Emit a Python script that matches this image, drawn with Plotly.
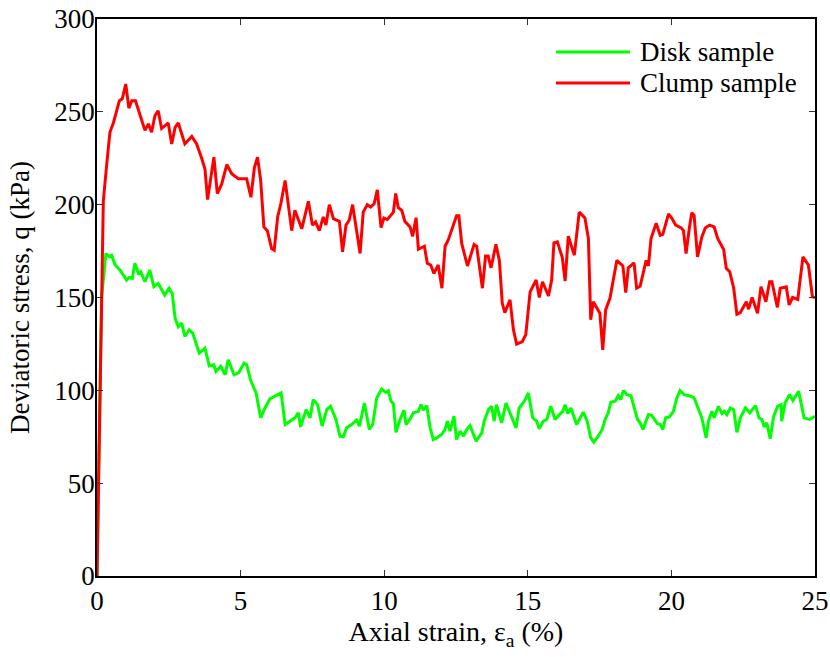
import plotly.graph_objects as go

# ---- data ----
disk_strain = [0, 0.10, 0.16, 0.31, 0.43, 0.51, 0.63, 0.80, 1.03, 1.12, 1.23, 1.32, 1.44, 1.52, 1.67, 1.84,
               1.98, 2.13, 2.36, 2.51, 2.62, 2.72, 2.83, 2.95, 3.06, 3.21, 3.33, 3.56, 3.76, 3.91, 4.07, 4.14,
               4.31, 4.46, 4.57, 4.77, 4.94, 5.12, 5.21, 5.35, 5.54, 5.70, 5.85, 6.02, 6.23, 6.41, 6.55, 6.72,
               6.89, 7.01, 7.09, 7.28, 7.42, 7.53, 7.68, 7.84, 8.00, 8.13, 8.32, 8.46, 8.58, 8.69, 8.87, 9.04,
               9.14, 9.31, 9.48, 9.60, 9.74, 9.91, 10.06, 10.14, 10.24, 10.32, 10.41, 10.55, 10.69, 10.76,
               10.90, 11.02, 11.19, 11.28, 11.36, 11.48, 11.60, 11.71, 11.83, 12.00, 12.12, 12.20, 12.29,
               12.43, 12.52, 12.64, 12.76, 12.87, 12.99, 13.20, 13.40, 13.48, 13.63, 13.74, 13.83, 13.91,
               14.09, 14.24, 14.44, 14.59, 14.70, 14.88, 15.02, 15.17, 15.31, 15.40, 15.54, 15.66, 15.80,
               15.95, 16.10, 16.22, 16.30, 16.39, 16.50, 16.70, 16.93, 17.07, 17.19, 17.30, 17.45, 17.59,
               17.69, 17.80, 17.89, 18.04, 18.15, 18.24, 18.33, 18.45, 18.59, 18.74, 18.82, 18.91, 19.01,
               19.20, 19.32, 19.51, 19.61, 19.70, 19.80, 19.93, 20.07, 20.19, 20.30, 20.44, 20.63, 20.79,
               20.94, 21.06, 21.21, 21.29, 21.41, 21.49, 21.64, 21.76, 21.84, 21.93, 22.05, 22.17, 22.28,
               22.40, 22.58, 22.73, 22.93, 23.05, 23.15, 23.23, 23.32, 23.44, 23.56, 23.70, 23.82, 23.84,
               23.96, 24.11, 24.23, 24.43, 24.62, 24.81, 25.0]
disk_q = [0, 100, 150, 173.7, 172, 172.8, 167.5, 164.8, 159.4, 160.8, 160.3, 168.4, 163, 163.9, 158.5, 164.8,
          155.8, 157.6, 151.3, 154.9, 152.2, 138.8, 134.3, 136.2, 129, 132.6, 130.8, 120, 122.7, 113.2, 113.8, 110.2,
          112.9, 108.4, 116.5, 108.4, 109.6, 114.7, 113.8, 105.4, 98.6, 85.2, 90.5, 95.4, 97.1, 98.6, 81.6, 83.4,
          85.2, 87.9, 80.3, 89.6, 85.2, 95, 92.3, 80.7, 89.6, 91.4, 84.3, 75.3, 75, 79.8, 81.6, 83.9,
          80.7, 93.2, 78.9, 81.6, 95.9, 100.7, 98.9, 99.8, 94.1, 92.8, 77.4, 84.3, 89.3, 81.6,
          84.6, 87.9, 88.7, 92.3, 89.3, 91.8, 79.8, 73.5, 74.4, 76.2, 78.9, 83.4, 78,
          86.1, 73.5, 78, 75.3, 78.9, 81, 72.6, 77.1, 83.4, 89.6, 91.4, 83.4, 92.3,
          82.5, 93.2, 86, 79.8, 90.5, 94.1, 98.6, 85.2, 83.4, 79.3, 83.4, 84.3, 91.4,
          84.3, 86.9, 88.7, 92.3, 87.5, 90.5, 81.6, 88.2, 83.4, 74.4, 72.1, 75.3, 78.9,
          84.3, 87.9, 93.6, 94.1, 97.1, 95, 100, 97.7, 97.1, 88.7, 84.3, 82.5, 78.9,
          86.9, 86.4, 82.1, 81.6, 78.9, 85.2, 85.7, 88.7, 95.9, 99.8, 97.7, 97.1, 95.9,
          89.6, 85.2, 74.4, 83.4, 88.7, 85.2, 91.4, 87.5, 88.7, 86.9, 90.5, 89.6, 77.4,
          85.2, 90.5, 87.9, 91.8, 85.2, 84.3, 80.3, 82.5, 73.9, 86, 91.4, 92.3, 83.4,
          93.2, 97.7, 94.5, 99.5, 85.2, 84.3, 86]

clump_strain = [0, 0.12, 0.22, 0.34, 0.45, 0.57, 0.78, 0.88, 1.0, 1.11, 1.21, 1.34, 1.50, 1.67, 1.79, 1.90,
                2.02, 2.13, 2.25, 2.48, 2.60, 2.72, 2.83, 3.06, 3.30, 3.47, 3.65, 3.76, 3.85, 3.96, 4.07, 4.19,
                4.34, 4.52, 4.69, 4.92, 5.21, 5.36, 5.48, 5.59, 5.70, 5.81, 5.93, 6.08, 6.17, 6.29, 6.40, 6.55,
                6.78, 6.89, 7.13, 7.36, 7.50, 7.61, 7.74, 7.88, 7.97, 8.09, 8.23, 8.44, 8.55, 8.67, 8.78, 8.90,
                9.02, 9.16, 9.27, 9.41, 9.53, 9.65, 9.76, 9.89, 9.99, 10.11, 10.32, 10.40, 10.49, 10.61, 10.72,
                10.90, 10.99, 11.11, 11.19, 11.40, 11.50, 11.62, 11.73, 11.88, 12.01, 12.12, 12.23, 12.52,
                12.60, 12.70, 12.90, 13.13, 13.22, 13.42, 13.53, 13.62, 13.72, 13.89, 14.01, 14.11, 14.20,
                14.38, 14.50, 14.61, 14.81, 14.93, 15.08, 15.29, 15.40, 15.51, 15.72, 15.83, 15.91, 16.03,
                16.20, 16.30, 16.41, 16.53, 16.62, 16.79, 16.99, 17.11, 17.19, 17.28, 17.40, 17.51, 17.61,
                17.71, 17.86, 17.98, 18.10, 18.31, 18.41, 18.50, 18.70, 18.79, 18.91, 19.12, 19.20, 19.29,
                19.47, 19.61, 19.70, 19.90, 20.01, 20.15, 20.34, 20.42, 20.51, 20.63, 20.71, 20.79, 20.91,
                21.06, 21.18, 21.33, 21.49, 21.61, 21.70, 21.82, 21.91, 22.03, 22.17, 22.28, 22.40, 22.61,
                22.69, 22.81, 23.00, 23.12, 23.29, 23.42, 23.50, 23.69, 23.79, 24.00, 24.10, 24.22, 24.40,
                24.58, 24.77, 24.91, 25.0]
clump_q = [0, 120, 202, 222, 239, 244, 256, 257, 265, 252, 256, 256, 248, 240, 243.5, 239,
           248, 250.6, 241, 244, 232.7, 241.6, 244, 232.7, 236.7, 232.7, 224.7, 219, 202.7, 213, 225.6, 206,
           211, 221.6, 216.7, 214, 214, 204, 220, 225.6, 213, 188, 186, 176.4, 175.5, 193.4, 200.5, 213,
           186, 197, 187, 201.8, 189, 190.7, 186, 193.4, 189, 200, 192.5, 191, 174.6, 189, 191.6, 200,
           187, 173.7, 196, 200, 198.7, 200.5, 208, 187.7, 192.8, 192, 196, 206, 198.4, 197, 191,
           188, 183, 193, 176, 177.6, 168.4, 167.5, 163, 167.5, 155, 177.6, 181, 194,
           194, 179, 167, 178.6, 177.6, 155, 172.3, 172.3, 166, 178.6, 170, 147, 141.8,
           148.7, 132.6, 124.9, 126.3, 130, 153, 159.4, 150, 158.5, 150.8, 159.4, 179.4, 180,
           171.6, 158.9, 183, 177.3, 172.8, 196, 192.8, 181.8, 138, 147.7, 144.7, 141.5, 121.8,
           143.3, 149.6, 160.3, 170, 167, 152.6, 166, 168.7, 155, 156, 170, 167, 181.8,
           190, 183.5, 184, 195, 192.8, 189, 187.5, 186, 173.7, 188, 195.7, 194.2, 171.9,
           182.6, 187.5, 189, 188, 181.8, 179, 175.9, 165.7, 163.9, 155, 141, 141.9, 147.7,
           143.7, 150, 141.5, 155.8, 147.7, 158.5, 158.5, 144.7, 155, 155.8, 146, 150, 149,
           171.9, 167.5, 150.4, 150]

series_names = ["Disk sample", "Clump sample"]
series_colors = ["#00FF00", "#FF0000"]
x_ticks = [0, 5, 10, 15, 20, 25]
y_ticks = [0, 50, 100, 150, 200, 250, 300]

FONT = "Liberation Serif, Times New Roman, serif"
FS = 27

fig = go.Figure()
for name, xs, ys, col in [(series_names[0], disk_strain, disk_q, series_colors[0]),
                          (series_names[1], clump_strain, clump_q, series_colors[1])]:
    fig.add_trace(go.Scatter(x=xs, y=ys, mode="lines", name=name, showlegend=False,
                             line=dict(color=col, width=3)))

# manual legend (MATLAB-style long line samples)
legend_y = [0.9408, 0.8851]
for name, col, ly in zip(series_names, series_colors, legend_y):
    fig.add_shape(type="line", xref="paper", yref="paper", x0=0.6393, x1=0.7423, y0=ly, y1=ly,
                  line=dict(color=col, width=3))
    fig.add_annotation(xref="paper", yref="paper", x=0.7535, y=ly, text=name, showarrow=False,
                       xanchor="left", yanchor="middle", font=dict(family=FONT, size=FS, color="black"))

axis_common = dict(showline=True, linecolor="black", linewidth=1.5, mirror="ticks",
                   ticks="inside", ticklen=6, tickwidth=1, tickcolor="#333333",
                   showgrid=False, zeroline=False, ticklabeloverflow="allow",
                   tickfont=dict(family=FONT, size=FS, color="black"))

fig.update_xaxes(range=[0, 25], tickvals=x_ticks, ticktext=[str(v) for v in x_ticks],
                 title=dict(text="Axial strain, ε<sub>a</sub> (%)", font=dict(family=FONT, size=28, color="black"),
                            standoff=6),
                 **axis_common)
fig.update_yaxes(range=[0, 300], tickvals=y_ticks, ticktext=[str(v) for v in y_ticks],
                 ticklabelstandoff=-5,
                 title=dict(text="Deviatoric stress, q (kPa)", font=dict(family=FONT, size=FS, color="black"),
                            standoff=17),
                 **axis_common)

fig.update_layout(width=830, height=657, plot_bgcolor="white", paper_bgcolor="white",
                  margin=dict(l=97, r=15, t=19, b=81, autoexpand=False),
                  font=dict(family=FONT, size=FS, color="black"))

# remove the browser's default 8px page margin so the figure fills the 830x657 window exactly
fig.write_html("out.html", config={"displayModeBar": False},
               post_script="document.body.style.margin='0';document.body.style.overflow='hidden';")
